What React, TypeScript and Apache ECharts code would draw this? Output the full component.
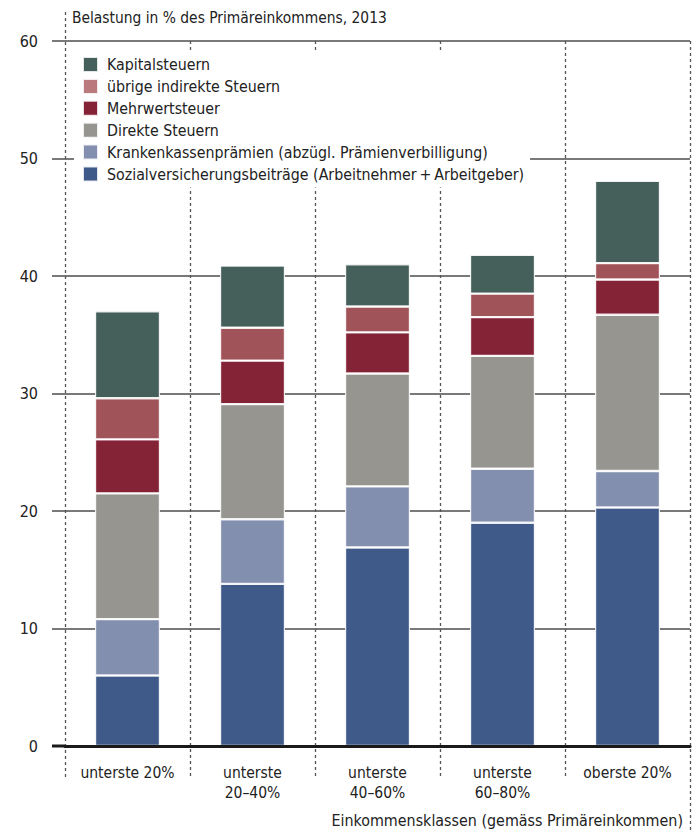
import React, { useEffect, useRef } from "react";
import * as echarts from "echarts";

// Income classes (by primary income)
const CATEGORIES = [
  "unterste 20%",
  "unterste\n20–40%",
  "unterste\n40–60%",
  "unterste\n60–80%",
  "oberste 20%",
];

// Burden components in % of primary income, 2013 (stacked bottom to top)
const SOZIAL = [6.0, 13.8, 16.9, 19.0, 20.3];
const KRANKEN = [4.8, 5.5, 5.2, 4.6, 3.1];
const DIREKTE = [10.7, 9.8, 9.6, 9.6, 13.3];
const MWST = [4.6, 3.7, 3.5, 3.3, 3.0];
const UEBRIGE = [3.5, 2.8, 2.2, 2.0, 1.4];
const KAPITAL = [7.4, 5.3, 3.6, 3.3, 7.0];

const Y_MIN = 0;
const Y_MAX = 60;
const Y_STEP = 10;

const TITLE = "Belastung in % des Primäreinkommens, 2013";
const X_NAME = "Einkommensklassen (gemäss Primäreinkommen)";

const FONT = "'DejaVu Sans Condensed', 'Liberation Sans Narrow', Roboto, sans-serif";
const TEXT = "#222222";
const GRIDLINE = "#4d4d4d";

const SERIES = [
  { name: "Sozialversicherungsbeiträge (Arbeitnehmer\u2009+\u2009Arbeitgeber)", data: SOZIAL, color: "#3f5a89", legendColor: "#3f5a89" },
  { name: "Krankenkassenprämien (abzügl. Prämienverbilligung)", data: KRANKEN, color: "#838faf", legendColor: "#838faf" },
  { name: "Direkte Steuern", data: DIREKTE, color: "#979590", legendColor: "#979590" },
  { name: "Mehrwertsteuer", data: MWST, color: "#842236", legendColor: "#842236" },
  { name: "übrige indirekte Steuern", data: UEBRIGE, color: "#a05358", legendColor: "#b9797d" },
  { name: "Kapitalsteuern", data: KAPITAL, color: "#455f5a", legendColor: "#455f5a" },
];

export default function App() {
  const ref = useRef<HTMLDivElement>(null);

  useEffect(() => {
    if (!ref.current) return;
    const chart = echarts.init(ref.current, undefined, { renderer: "svg" });

    const option: any = {
      animation: false,
      backgroundColor: "#ffffff",
      textStyle: { fontFamily: FONT },
      grid: { left: 65, right: 6, top: 41, bottom: 86, containLabel: false },
      legend: {
        orient: "vertical",
        left: 74,
        top: 50,
        padding: [6, 6, 5, 8],
        backgroundColor: "#ffffff",
        itemWidth: 15,
        itemHeight: 15,
        itemGap: 4.9,
        selectedMode: false,
        icon: "rect",
        textStyle: {
          fontFamily: FONT,
          fontSize: 15.8,
          lineHeight: 15,
          color: TEXT,
          padding: [0, 0, 0, 4],
        },
        data: [...SERIES].reverse().map((s) => ({
          name: s.name,
          itemStyle: { color: s.legendColor },
        })),
        z: 6,
      },
      xAxis: {
        type: "category",
        data: CATEGORIES,
        z: 4,
        axisLine: { show: true, lineStyle: { color: "#1a1a1a", width: 3 } },
        axisTick: { show: false },
        splitLine: { show: false },
        axisLabel: {
          fontFamily: FONT,
          fontSize: 15.5,
          color: TEXT,
          lineHeight: 20,
          margin: 17,
          interval: 0,
        },
      },
      yAxis: {
        type: "value",
        min: Y_MIN,
        max: Y_MAX,
        interval: Y_STEP,
        axisLine: { show: false },
        axisTick: { show: true, length: 13, lineStyle: { color: GRIDLINE, width: 1.5 } },
        splitLine: { show: true, lineStyle: { color: GRIDLINE, width: 1.5 } },
        axisLabel: { fontFamily: FONT, fontSize: 16, color: TEXT, margin: 27 },
      },
      series: SERIES.map((s) => ({
        name: s.name,
        type: "bar",
        stack: "total",
        barWidth: "52%",
        data: s.data,
        itemStyle: {
          color: s.color,
          borderColor: "rgba(255,255,255,0.85)",
          borderWidth: 1.2,
        },
      })),
    };

    chart.setOption(option);

    // Dashed category separators and axis decorations, placed from the axis scales
    const c0 = chart.convertToPixel({ xAxisIndex: 0 }, 0) as number;
    const c1 = chart.convertToPixel({ xAxisIndex: 0 }, 1) as number;
    const band = c1 - c0;
    const yZero = chart.convertToPixel({ yAxisIndex: 0 }, Y_MIN) as number;
    const yTop = chart.convertToPixel({ yAxisIndex: 0 }, Y_MAX) as number;
    const left = c0 - band / 2;
    const right = left + band * CATEGORIES.length;

    const dash = { stroke: "#555555", lineWidth: 1.3, lineDash: [3, 3] };
    const graphics: any[] = [];
    for (let i = 0; i <= CATEGORIES.length; i++) {
      const x = Math.round(left + i * band) + 0.5;
      const y1 = i === 0 ? 12 : yTop;
      const y2 = i === CATEGORIES.length ? 832 : yZero + 32;
      graphics.push({
        type: "line",
        z: 1,
        silent: true,
        shape: { x1: x, y1, x2: x, y2 },
        style: dash,
      });
    }
    // thick baseline continues left over the tick extension
    graphics.push({
      type: "line",
      z: 5,
      silent: true,
      shape: { x1: left - 13, y1: yZero, x2: left, y2: yZero },
      style: { stroke: "#1a1a1a", lineWidth: 3 },
    });
    graphics.push({
      type: "text",
      z: 5,
      x: left + 7,
      y: 18,
      style: {
        text: TITLE,
        fontFamily: FONT,
        fontSize: 15.4,
        fill: TEXT,
        align: "left",
        verticalAlign: "middle",
      },
    });
    graphics.push({
      type: "text",
      z: 5,
      x: right - 7,
      y: 820,
      style: {
        text: X_NAME,
        fontFamily: FONT,
        fontSize: 15.9,
        fill: TEXT,
        align: "right",
        verticalAlign: "middle",
      },
    });

    chart.setOption({ graphic: graphics });

    return () => chart.dispose();
  }, []);

  return (
    <div
      ref={ref}
      style={{ position: "absolute", left: 0, top: 0, width: 696, height: 832 }}
    />
  );
}
